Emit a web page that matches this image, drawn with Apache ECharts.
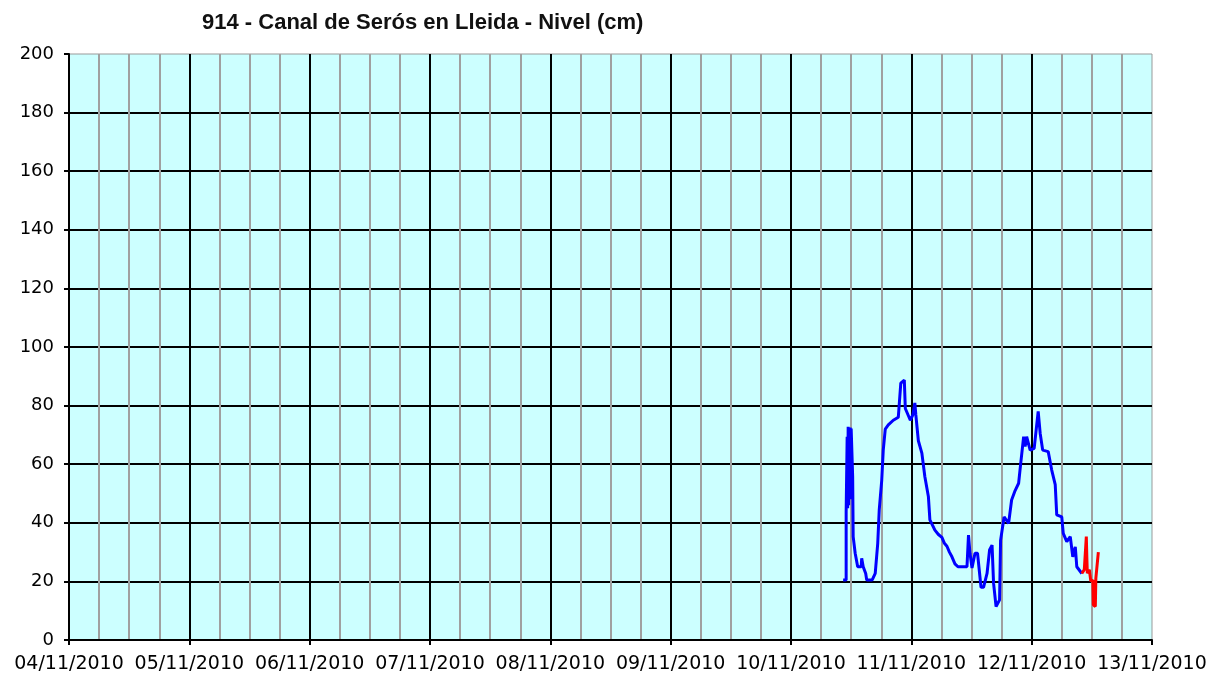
<!DOCTYPE html>
<html>
<head>
<meta charset="utf-8">
<script src="https://cdn.jsdelivr.net/npm/echarts@6/dist/echarts.min.js"></script>
<style>
  html, body {margin: 0; padding: 0; background: #fff;}
  #chart {width: 1222px; height: 682px;}
</style>
</head>
<body>
<div id="chart"></div>
<script>
// hours counted from 04/11/2010 00:00
const dayLabels = ['04/11/2010', '05/11/2010', '06/11/2010', '07/11/2010', '08/11/2010',
  '09/11/2010', '10/11/2010', '11/11/2010', '12/11/2010', '13/11/2010']

const blueHours = [154.4, 155.0, 155.0, 155.2, 155.3, 155.4, 155.5, 155.6, 155.7, 155.8, 155.9, 156.0,
  156.2, 156.3, 156.4, 156.8, 157.3, 158.0,
  158.1, 158.4, 158.9, 159.1, 160.2, 160.8, 161.3, 161.6, 162.1, 162.4, 162.8, 163.4, 164.4,
  165.4, 165.9, 166.6, 166.8, 167.8, 168.3, 168.7, 168.9, 169.4, 170.1, 170.7, 171.4, 171.7,
  172.7, 173.4, 174.1, 174.6, 175.1, 175.6, 176.1, 176.7, 177.3, 179.1, 179.4, 179.7, 180.1, 180.7, 181.2, 181.9,
  182.4, 183.1, 183.6, 184.1, 184.4, 184.9, 185.6, 185.8, 186.5, 187.4, 188.0, 188.7, 189.4,
  189.8, 190.4, 190.7, 191.0, 191.7, 192.5, 192.9, 193.3, 193.7, 194.2, 195.3, 196.0, 196.7, 197.0,
  198.0, 198.3, 199.0, 199.7, 200.2, 200.7, 201.0, 202.0]
const blueLevels = [20.5, 20.5, 43.8, 69.4, 45, 72.8, 46, 72.5, 50, 72.5, 48, 72.2,
  72, 55.7, 35.3, 29.6, 25, 25,
  27.9, 25, 22.7, 20.5, 20.5, 22.7, 33, 44.4, 54.6, 64.8, 72, 73.4, 75,
  76, 87.7, 88.7, 79, 75, 76.8, 80.9, 76.8, 68, 63.8, 55.7, 49, 41,
  37.5, 36, 35, 33, 32, 30, 28.4, 26, 25, 25, 35.8, 29.6, 24.6, 29.6, 29.6, 18,
  18, 22.7, 30.7, 32.4, 19.4, 11.4, 13.7, 34, 42, 39.8, 47.8, 51, 53.5,
  60, 69.4, 66, 69.4, 64.8, 65.4, 71.7, 78, 70.5, 64.8, 64.3, 58, 53, 42.7,
  42, 36.4, 33.6, 35.3, 28.4, 31.8, 25, 22.7]

const redHours = [202.0, 202.5, 202.9, 203.0, 203.1, 203.5, 203.8, 204.2, 204.3, 204.7, 204.8, 205.0, 205.3]
const redLevels = [22.7, 24, 35.3, 28.4, 22.8, 24, 20, 20.5, 12, 11.4, 21, 21.6, 30]

const pair = (xs, ys) => xs.map((x, i) => [x, ys[i]])

const chart = echarts.init(document.getElementById('chart'))
chart.setOption({
  animation: false,
  backgroundColor: '#fff',
  title: {
    text: '914 - Canal de Serós en Lleida - Nivel (cm)',
    left: 197,
    top: 7,
    textStyle: {fontFamily: 'Liberation Sans', fontSize: 22, fontWeight: 'bold', color: '#111'}
  },
  grid: {
    left: 69, right: 70, top: 54, bottom: 42,
    show: true, backgroundColor: '#CCFFFF', borderColor: '#999', borderWidth: 1
  },
  xAxis: {
    type: 'value',
    min: 0, max: 216, interval: 24,
    axisLine: {lineStyle: {color: '#000', width: 2}},
    axisTick: {show: true, length: 5, lineStyle: {color: '#000', width: 2}},
    axisLabel: {
      color: '#000', fontFamily: 'DejaVu Sans', fontSize: 19, margin: 15,
      formatter: (v) => dayLabels[Math.round(v / 24)]
    },
    splitLine: {show: true, showMaxLine: false, lineStyle: {color: '#000', width: 2}},
    minorTick: {show: false, splitNumber: 4},
    minorSplitLine: {show: true, lineStyle: {color: '#a0a0a0', width: 2}}
  },
  yAxis: {
    type: 'value',
    min: 0, max: 200, interval: 20,
    axisLine: {show: true, lineStyle: {color: '#000', width: 2}},
    axisTick: {show: true, length: 5, lineStyle: {color: '#000', width: 2}},
    axisLabel: {color: '#000', fontFamily: 'DejaVu Sans', fontSize: 18, margin: 15},
    splitLine: {show: true, showMaxLine: false, lineStyle: {color: '#000', width: 2}}
  },
  series: [
    {
      type: 'line',
      data: pair(blueHours, blueLevels),
      symbol: 'none',
      lineStyle: {color: '#0000ff', width: 3},
      z: 3
    },
    {
      type: 'line',
      data: pair(redHours, redLevels),
      symbol: 'none',
      lineStyle: {color: '#ff0000', width: 3},
      z: 4
    }
  ]
})
</script>
</body>
</html>
